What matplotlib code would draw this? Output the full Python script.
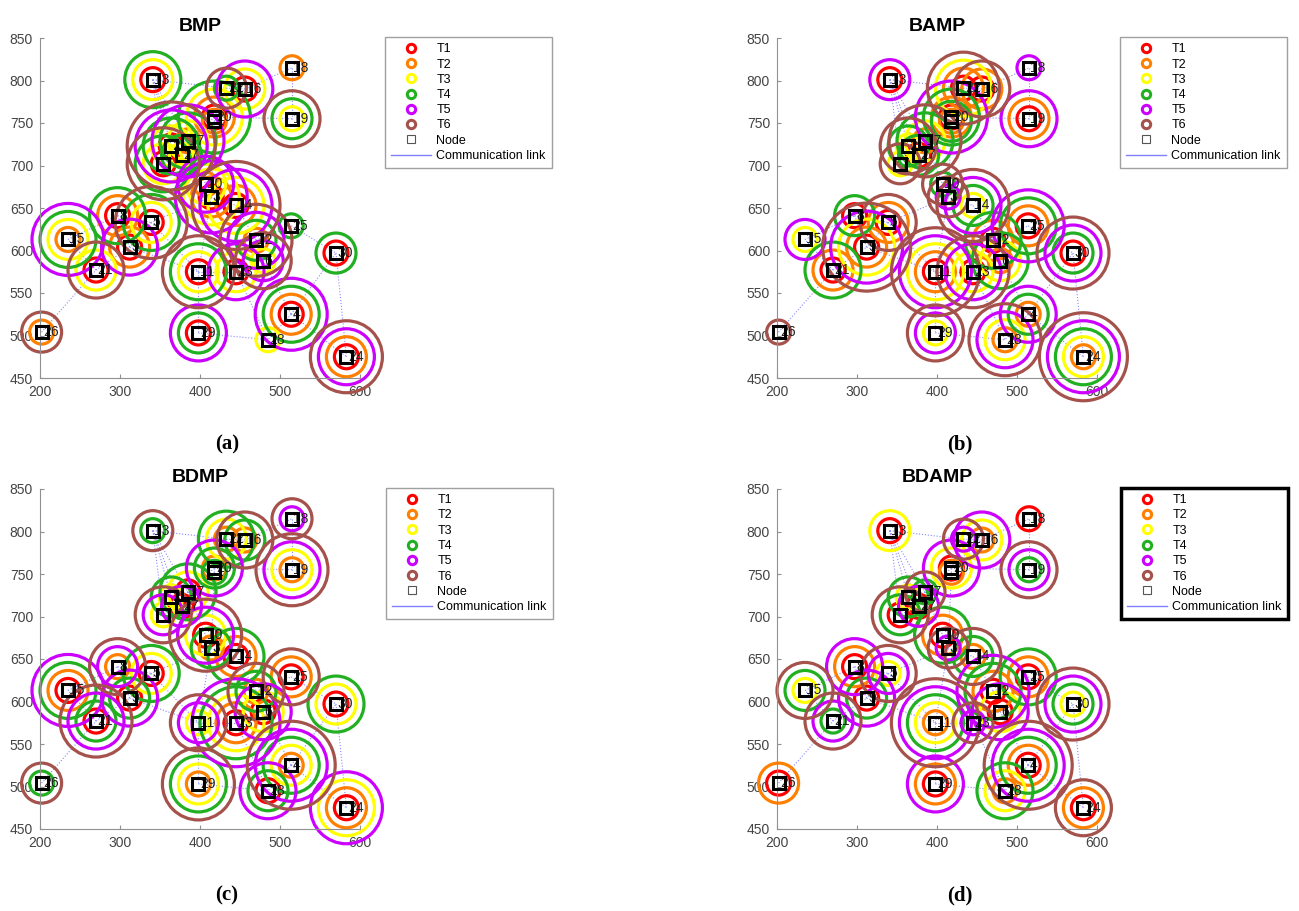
import matplotlib
matplotlib.use("Agg")
import matplotlib.pyplot as plt
from matplotlib.lines import Line2D

plt.rcParams['font.family'] = ['Liberation Sans', 'DejaVu Sans']

# node ids and positions (same layout in all four panels)
node_ids = [13, 18, 22, 16, 20, 1, 19, 17, 2, 27, 7, 10, 3, 14, 8,
            5, 15, 25, 12, 9, 30, 6, 21, 11, 23, 4, 26, 29, 28, 24]
node_x = [341, 515, 433, 456, 418, 418, 515, 385, 364, 377, 354, 407, 414, 445, 297,
          339, 235, 514, 470, 312, 570, 479, 270, 398, 445, 514, 202, 398, 485, 583]
node_y = [801, 815, 791, 790, 757, 752, 755, 729, 723, 712, 702, 678, 663, 653, 641,
          633, 613, 629, 612, 604, 597, 588, 577, 575, 575, 525, 504, 503, 495, 475]

# tiers drawn around each node, inner to outer ("134" = T1, T3, T4)
bmp_tiers = ["134", "2", "46", "135", "1234", "2", "346", "2345", "13456", "34", "1346",
             "235", "1235", "12356", "124", "1346", "2345", "4", "2456", "125", "14",
             "356", "136", "1346", "135", "1245", "26", "145", "3", "1256"]
bamp_tiers = ["15", "5", "1236", "126", "1245", "24", "125", "2346", "346", "14", "36",
              "46", "56", "3456", "14", "126", "35", "1245", "124", "12356", "1456",
              "234", "124", "12356", "1356", "245", "6", "356", "2356", "23456"]
bdmp_tiers = ["46", "56", "234", "246", "245", "4", "2356", "134", "34", "15", "356",
              "1356", "24", "124", "256", "134", "1245", "126", "246", "145", "134",
              "135", "1456", "356", "12345", "23456", "46", "2346", "145", "1235"]
bdamp_tiers = ["13", "1", "56", "235", "135", "2", "456", "46", "34", "15", "146",
               "124", "56", "246", "125", "356", "346", "124", "1245", "145", "3456",
               "135", "456", "23456", "56", "12456", "12", "125", "234", "126"]

# communication links between node ids
links = [(26, 21), (21, 15), (21, 9), (13, 22), (13, 7), (13, 2), (13, 27), (13, 17),
         (22, 16), (16, 18), (18, 19), (19, 20), (20, 1), (20, 16), (20, 17), (17, 2),
         (17, 27), (2, 7), (27, 7), (17, 10), (10, 3), (3, 14), (14, 12), (3, 5),
         (8, 5), (8, 9), (5, 9), (15, 8), (9, 11), (5, 11), (11, 23), (11, 29),
         (11, 3), (23, 6), (23, 12), (6, 12), (12, 25), (25, 30), (6, 4), (4, 30),
         (4, 28), (4, 24), (29, 28), (23, 28), (30, 24), (1, 3), (22, 20)]

tier_names = ['T1', 'T2', 'T3', 'T4', 'T5', 'T6']
tier_colors = ['#ff0000', '#ff8000', '#ffff00', '#22b022', '#cc00ff', '#a5524c']

panels = [
    ("BMP", "(a)", bmp_tiers, 40, 38, 385, 227),
    ("BAMP", "(b)", bamp_tiers, 777, 38, 1120, 960),
    ("BDMP", "(c)", bdmp_tiers, 40, 489, 386, 227),
    ("BDAMP", "(d)", bdamp_tiers, 777, 489, 1121, 960),
]

W, H = 1299, 911
fig = plt.figure(figsize=(W / 100, H / 100), dpi=100)
pos = dict(zip(node_ids, zip(node_x, node_y)))

for title, tag, tiers, left, top, leg_x, tag_x in panels:
    ax = fig.add_axes([left / W, 1 - (top + 340) / H, 320 / W, 340 / H])
    ax.set_xlim(200, 600)
    ax.set_ylim(450, 850)

    for a, b in links:
        ax.plot([pos[a][0], pos[b][0]], [pos[a][1], pos[b][1]], color='#8a8aff',
                lw=0.8, ls=':', zorder=1)

    # rings: layer k sits at radius 12 + 8k px
    for t in range(6):
        xs, ys, ss = [], [], []
        for nx, ny, tr in zip(node_x, node_y, tiers):
            key = str(t + 1)
            if key in tr:
                k = tr.index(key)
                d = 2 * (12 + 8 * k) * 0.72
                xs.append(nx)
                ys.append(ny)
                ss.append(d ** 2)
        ax.scatter(xs, ys, s=ss, facecolors='none', edgecolors=tier_colors[t],
                   linewidths=2.3, zorder=2, clip_on=False)

    for n, nx, ny in zip(node_ids, node_x, node_y):
        ax.annotate(str(n), (nx, ny), xytext=(1, 0), textcoords='offset points',
                    ha='left', va='center', fontsize=10, color='#222222', zorder=3)
    ax.plot(node_x, node_y, 's', ms=8, mfc='none', mec='black', mew=2.2,
            ls='none', zorder=4, clip_on=False)

    for s in ['top', 'right']:
        ax.spines[s].set_visible(False)
    for s in ['left', 'bottom']:
        ax.spines[s].set_color('#909090')
    ax.set_xticks([200, 300, 400, 500, 600])
    ax.set_yticks([450, 500, 550, 600, 650, 700, 750, 800, 850])
    ax.tick_params(direction='in', length=3, color='#909090', labelsize=10,
                   labelcolor='#444444', pad=5)
    ax.set_title(title, fontsize=14, fontweight='bold', pad=5)

    handles = [Line2D([], [], marker='o', ls='none', ms=6, mfc='none', mec=c, mew=2.2)
               for c in tier_colors]
    handles.append(Line2D([], [], marker='s', ls='none', ms=6, mfc='none',
                          mec='#555555', mew=0.8))
    handles.append(Line2D([], [], color='#8080ff', lw=1))
    leg_top = 37 if top < 100 else 488
    leg = ax.legend(handles, tier_names + ['Node', 'Communication link'],
                    loc='upper left', bbox_to_anchor=(leg_x / W, 1 - leg_top / H),
                    bbox_transform=fig.transFigure, borderaxespad=0, fontsize=9,
                    handlelength=3.2, handletextpad=0.4, labelspacing=0.26,
                    fancybox=False, framealpha=1, borderpad=0.5)
    frame = leg.get_frame()
    if title == "BDAMP":
        frame.set_edgecolor('black')
        frame.set_linewidth(2.5)
    else:
        frame.set_edgecolor('#a0a0a0')
        frame.set_linewidth(1)

    fig.text(tag_x / W, 1 - (top + 406) / H, tag, ha='center', va='center',
             fontsize=15, fontweight='bold', family='Liberation Serif')

fig.savefig("out.png", dpi=100)
